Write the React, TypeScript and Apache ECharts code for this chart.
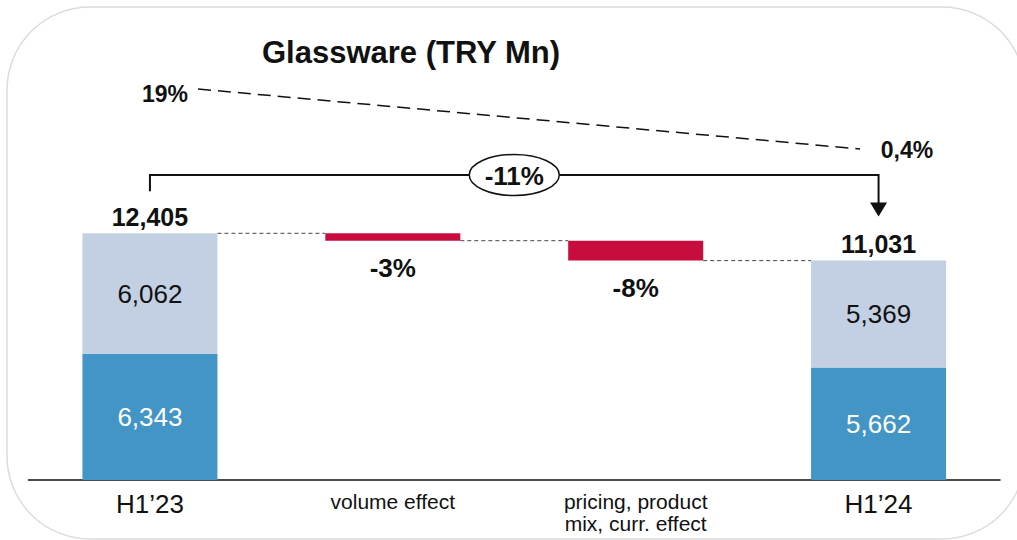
import React, { useEffect, useRef } from "react";
import * as echarts from "echarts";

const categories = ["H1\u201923", "volume effect", "pricing, product\nmix, curr. effect", "H1\u201924"];
const bottomSegment = [6343, null, null, 5662];
const topSegment = [6062, null, null, 5369];
const effects = [null, -372, -1002, null];
const effectLabels = ["", "-3%", "-8%", ""];
const marginStart = "19%";
const marginEnd = "0,4%";
const changeLabel = "-11%";
const title = "Glassware (TRY Mn)";

const FONT = 'Arial, "Liberation Sans", sans-serif';
const DARK = "#4395C5";
const LIGHT = "#C3CFE2";
const RED = "#C60D3E";

const fmt = (v: number) => v.toLocaleString("en-US");

export default function App() {
  const ref = useRef<HTMLDivElement>(null);
  useEffect(() => {
    if (!ref.current) return;
    const chart = echarts.init(ref.current, null, { renderer: "svg" });

    const totals = categories.map((_, i) =>
      bottomSegment[i] != null ? (bottomSegment[i] as number) + (topSegment[i] as number) : null
    );
    // running totals for waterfall
    const base: any[] = [];
    const redVals: any[] = [];
    const levels: number[] = [];
    let running = totals[0] as number;
    categories.forEach((_, i) => {
      if (effects[i] != null) {
        const e = effects[i] as number;
        const next = running + e;
        base.push(Math.min(running, next));
        redVals.push(Math.abs(e));
        levels.push(running);
        running = next;
      } else {
        base.push("-");
        redVals.push("-");
        levels.push(totals[i] as number);
      }
    });
    const totalStub = totals.map((t) => (t != null ? 0 : "-"));

    const gridBottomPx = 480;
    const pxPerUnit = 246.7 / 12405;
    const yMax = 20000;
    const gridTop = gridBottomPx - yMax * pxPerUnit;

    const option: any = {
      animation: false,
      backgroundColor: "#fff",
      textStyle: { fontFamily: FONT },
      grid: { left: 28.5, right: 17, top: gridTop, bottom: 540 - gridBottomPx },
      xAxis: {
        type: "category",
        data: categories,
        axisLine: { show: true, lineStyle: { color: "#111", width: 1.5 } },
        axisTick: { show: false },
        axisLabel: {
          margin: 10,
          interval: 0,
          formatter: (v: string, i: number) =>
            i === 0 || i === 3
              ? `{big|${v}}`
              : v.split("\n").map((l) => `{small|${l}}`).join("\n"),
          rich: {
            big: { fontSize: 26, lineHeight: 28, color: "#111", fontFamily: FONT },
            small: { fontSize: 21, lineHeight: 22, color: "#111", fontFamily: FONT },
          },
        },
      },
      yAxis: { type: "value", min: 0, max: yMax, show: false, splitLine: { show: false } },
      series: [
        {
          name: "base",
          type: "bar",
          stack: "w",
          barWidth: 135,
          itemStyle: { color: "transparent" },
          data: base,
          silent: true,
        },
        {
          name: "bottom",
          type: "bar",
          stack: "w",
          barWidth: 135,
          itemStyle: { color: DARK },
          data: bottomSegment.map((v) => (v == null ? "-" : v)),
          label: {
            show: true,
            position: "inside",
            color: "#fff",
            fontSize: 26,
            fontFamily: FONT,
            formatter: (p: any) => fmt(p.value),
          },
        },
        {
          name: "top",
          type: "bar",
          stack: "w",
          barWidth: 135,
          itemStyle: { color: LIGHT },
          data: topSegment.map((v) => (v == null ? "-" : v)),
          label: {
            show: true,
            position: "inside",
            color: "#111",
            fontSize: 26,
            fontFamily: FONT,
            formatter: (p: any) => fmt(p.value),
          },
        },
        {
          name: "effect",
          type: "bar",
          stack: "w",
          barWidth: 135,
          itemStyle: { color: RED },
          data: redVals,
          label: {
            show: true,
            position: "bottom",
            distance: 14,
            color: "#111",
            fontSize: 26,
            fontWeight: "bold",
            fontFamily: FONT,
            formatter: (p: any) => effectLabels[p.dataIndex],
          },
        },
        {
          name: "total",
          type: "bar",
          stack: "w",
          barWidth: 135,
          itemStyle: { color: "transparent" },
          data: totalStub,
          label: {
            show: true,
            position: "top",
            distance: 4,
            color: "#111",
            fontSize: 25,
            fontWeight: "bold",
            fontFamily: FONT,
            formatter: (p: any) => fmt(totals[p.dataIndex] as number),
          },
        },
      ],
    };
    chart.setOption(option);

    const px = (i: number, v: number) => chart.convertToPixel({ gridIndex: 0 }, [i, v]) as number[];
    const half = 67.5;
    const p0 = px(0, totals[0] as number);
    const p3 = px(3, totals[3] as number);
    const graphics: any[] = [];

    // frame
    graphics.push({
      type: "rect",
      shape: { x: 7, y: 7, width: 1018, height: 532, r: 83 },
      style: { fill: "none", stroke: "#dcdcdc", lineWidth: 1.5 },
      silent: true,
      z: 0,
    });
    // title
    graphics.push({
      type: "text",
      x: 411,
      y: 52,
      style: { text: title, font: `bold 31px ${FONT}`, fill: "#111", align: "center", verticalAlign: "middle" },
    });
    // margin labels & dashed line
    graphics.push({
      type: "text",
      x: 165,
      y: 94,
      style: { text: marginStart, font: `bold 23px ${FONT}`, fill: "#111", align: "center", verticalAlign: "middle" },
    });
    graphics.push({
      type: "text",
      x: 907,
      y: 150,
      style: { text: marginEnd, font: `bold 23px ${FONT}`, fill: "#111", align: "center", verticalAlign: "middle" },
    });
    graphics.push({
      type: "line",
      shape: { x1: 198, y1: 89, x2: 860, y2: 149 },
      style: { stroke: "#111", lineWidth: 1.5, lineDash: [13, 7] },
    });
    // connectors between bars
    for (let i = 0; i < categories.length - 1; i++) {
      const level = i === 0 ? (totals[0] as number) : levels[i] + (effects[i] as number);
      const a = px(i, level);
      const b = px(i + 1, level);
      graphics.push({
        type: "line",
        shape: { x1: a[0] + half, y1: a[1], x2: b[0] - half, y2: a[1] },
        style: { stroke: "#444", lineWidth: 1, lineDash: [4, 3] },
      });
    }
    // bracket with arrow
    const yBr = 175;
    const leftEnd = p0[1] - 42;
    const tip = p3[1] - 44;
    graphics.push({
      type: "polyline",
      shape: { points: [[p0[0], leftEnd], [p0[0], yBr], [p3[0], yBr], [p3[0], tip - 12]] },
      style: { stroke: "#111", lineWidth: 2, fill: "none" },
    });
    graphics.push({
      type: "polygon",
      shape: { points: [[p3[0] - 8.5, tip - 14], [p3[0] + 8.5, tip - 14], [p3[0], tip]] },
      style: { fill: "#111" },
    });
    const cx = (p0[0] + p3[0]) / 2;
    graphics.push({
      type: "ellipse",
      shape: { cx, cy: yBr, rx: 45, ry: 20.5 },
      style: { fill: "#fff", stroke: "#111", lineWidth: 1.5 },
      z: 10,
    });
    graphics.push({
      type: "text",
      x: cx,
      y: yBr + 1,
      z: 11,
      style: { text: changeLabel, font: `bold 26px ${FONT}`, fill: "#111", align: "center", verticalAlign: "middle" },
    });

    chart.setOption({ graphic: graphics });

    return () => chart.dispose();
  }, []);

  return (
    <div
      ref={ref}
      style={{ position: "absolute", left: 0, top: 0, width: 1017, height: 540, background: "#fff" }}
    />
  );
}
